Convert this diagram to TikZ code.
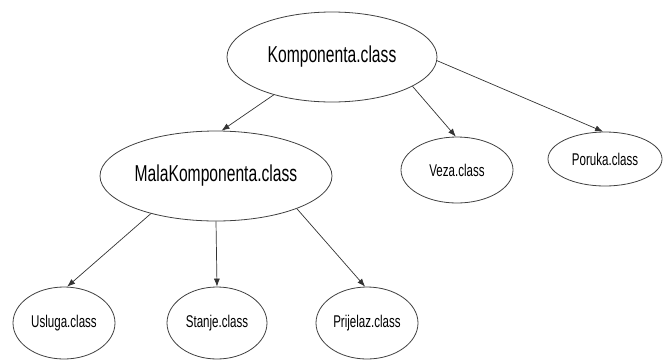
\documentclass[tikz,border=0pt]{standalone}
\usepackage{fontspec}
\setmainfont{Liberation Sans}
\usetikzlibrary{shapes.geometric,arrows.meta}
\newcommand{\nrw}[1]{\scalebox{0.68}[1]{#1}}
\tikzset{
  cls/.style={ellipse, draw=black!75, line width=0.8pt, inner sep=0pt},
  bigcls/.style={cls, font=\fontsize{23}{27}\selectfont},
  smallcls/.style={cls, font=\fontsize{17}{20}\selectfont},
  link/.style={draw=black!80, line width=0.7pt, -{Latex[length=8pt,width=6pt]}}
}
\begin{document}
\begin{tikzpicture}[x=1pt,y=-1pt]
\useasboundingbox (0,0) rectangle (668,359);
\node[bigcls, minimum width=210pt, minimum height=90pt] (k) at (332,57) {\nrw{Komponenta.class}};
\node[bigcls, minimum width=232pt, minimum height=90pt] (m) at (216,176) {\nrw{MalaKomponenta.class}};
\node[smallcls, minimum width=112pt, minimum height=66pt] (v) at (457,170) {\nrw{Veza.class}};
\node[smallcls, minimum width=114pt, minimum height=54pt] (p) at (605,159) {\nrw{Poruka.class}};
\node[smallcls, minimum width=102pt, minimum height=72pt] (u) at (64,323) {\nrw{Usluga.class}};
\node[smallcls, minimum width=100pt, minimum height=72pt] (s) at (217,323) {\nrw{Stanje.class}};
\node[smallcls, minimum width=102pt, minimum height=72pt] (r) at (367,323) {\nrw{Prijelaz.class}};
\draw[link] (k.213) -- (m.83);
\draw[link] (k.340) -- (v.92);
\draw[link] (k.358) -- (p.94);
\draw[link] (m.210) -- (u.85);
\draw[link] (m.270) -- (s.90);
\draw[link] (m.338) -- (r.93);
\end{tikzpicture}
\end{document}
